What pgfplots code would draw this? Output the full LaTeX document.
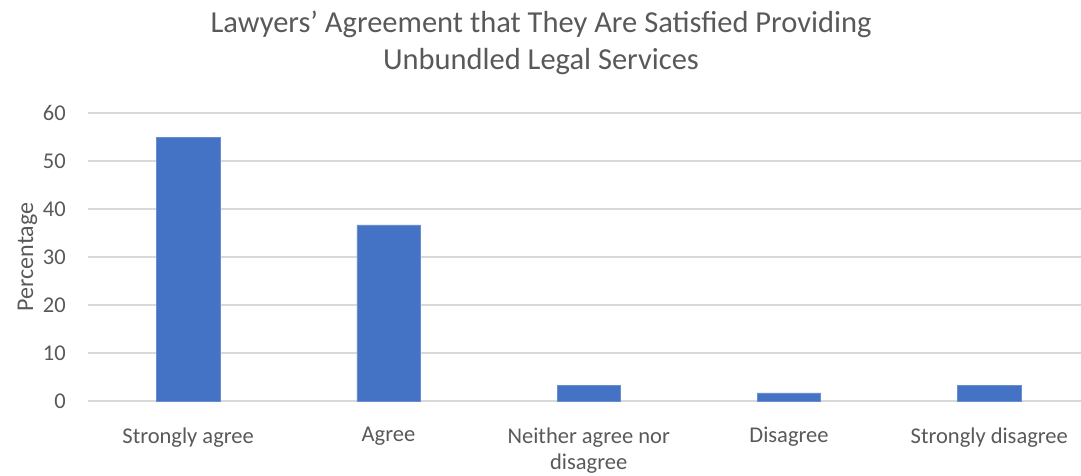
\documentclass[border=0pt]{standalone}
\usepackage{fontspec}
\setmainfont{Carlito}
\usepackage{pgfplots}
\pgfplotsset{compat=1.18}
\definecolor{barblue}{HTML}{4472C4}
\definecolor{gridgray}{HTML}{D9D9D9}
\definecolor{txtgray}{HTML}{595959}
\begin{document}
\begin{tikzpicture}[x=1pt,y=1pt]
\useasboundingbox (0,0) rectangle (1081,475);
\begin{axis}[
  at={(88pt,74pt)}, anchor=south west,
  scale only axis, width=1001.5pt, height=288pt,
  ybar, bar width=63.3pt,
  xmin=-0.5, xmax=4.5, ymin=0, ymax=60,
  xtick={0,1,2,3,4},
  xticklabels={Strongly agree, Agree, {Neither agree nor\\disagree}, Disagree, Strongly disagree},
  ytick={0,10,20,30,40,50,60},
  ymajorgrids, major grid style={draw=gridgray, line width=1.5pt},
  axis line style={draw=none},
  tick style={draw=none},
  /pgf/number format/assume math mode=true,
  yticklabel style={font=\fontsize{22.5}{27}\selectfont, text=txtgray, anchor=east, inner sep=0pt, xshift=-22pt},
  xticklabel style={font=\fontsize{22.5}{26}\selectfont, text=txtgray, anchor=north, align=center, inner sep=0pt, yshift=-22pt},
  ylabel={Percentage},
  every axis y label/.style={at={(axis description cs:-0.0549,0.5)}, rotate=90, anchor=base, font=\fontsize{24}{28}\selectfont, text=txtgray},
]
\addplot[fill=barblue, draw=barblue!80!white, line width=0.5pt] coordinates {(0,55.0) (1,36.7) (2,3.3) (3,1.7) (4,3.3)};
\end{axis}
\node[anchor=base, text=txtgray, font=\fontsize{30.5}{37}\selectfont] at (541,442) {Lawyers’ Agreement that They Are Satisfied Providing};
\node[anchor=base, text=txtgray, font=\fontsize{30.5}{37}\selectfont] at (541,405) {Unbundled Legal Services};
\end{tikzpicture}
\end{document}
